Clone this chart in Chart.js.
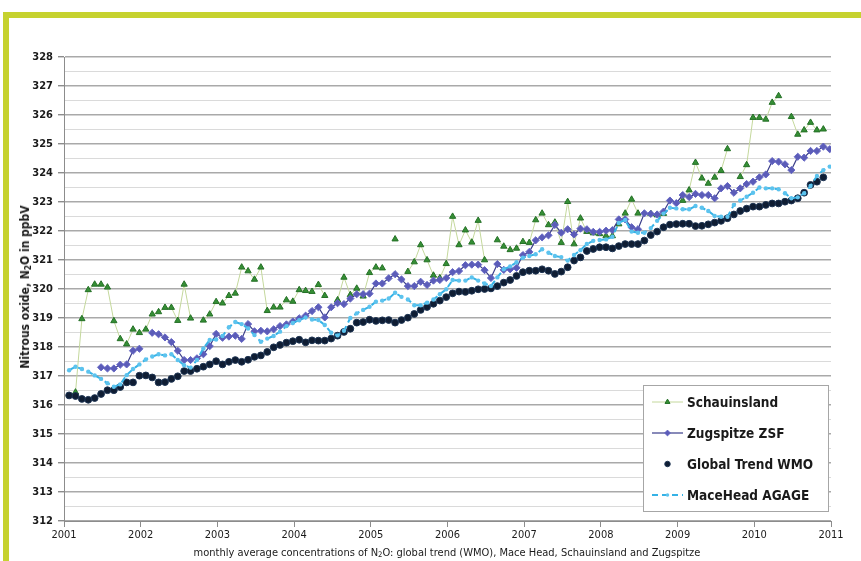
<!DOCTYPE html>
<html>
<head>
<meta charset="utf-8">
<script src="https://cdn.jsdelivr.net/npm/chart.js@4.4.1/dist/chart.umd.min.js"></script>
<style>
  body { margin: 0; background: #fff; }
  #wrap { position: relative; width: 861px; height: 561px; overflow: hidden;
          font-family: 'Liberation Sans Narrow', 'DejaVu Sans Condensed', Arial, sans-serif; }
  #frame { position: absolute; left: 3px; top: 12px; width: 900px; height: 600px;
           border-top: 6px solid #c6d22f; border-left: 6px solid #c6d22f; }
  canvas { position: absolute; left: 0; top: 0; }
  #ytitle { position: absolute; left: 25px; top: 287px; transform: translate(-50%, -50%) rotate(-90deg);
            white-space: nowrap; font-weight: bold; font-size: 12px; color: #1a1a1a; }
  #xtitle { position: absolute; left: 447px; top: 552px; transform: translate(-50%, -50%);
            white-space: nowrap; font-size: 11px; color: #1a1a1a; }
  sub { font-size: 0.7em; vertical-align: -0.25em; line-height: 0; }
</style>
</head>
<body>
<div id="wrap">
  <div id="frame"></div>
  <canvas id="chart" width="861" height="561"></canvas>
  <div id="ytitle">Nitrous oxide, N<sub>2</sub>O in ppbV</div>
  <div id="xtitle">monthly average concentrations of N<sub>2</sub>O: global trend (WMO), Mace Head, Schauinsland and Zugspitze</div>
</div>
<script>
// series names (legend order)
const seriesNames = ['Schauinsland', 'Zugspitze ZSF', 'Global Trend WMO', 'MaceHead AGAGE'];
const yearTicks = [2001, 2002, 2003, 2004, 2005, 2006, 2007, 2008, 2009, 2010, 2011];

// monthly values, Jan 2001 .. Dec 2010 (null = no measurement)
const schauinsland = [
  null, 316.44, 318.97, 319.97, 320.16, 320.16, 320.06, 318.90, 318.28, 318.10, 318.61, 318.49,
  318.61, 319.13, 319.21, 319.36, 319.36, 318.91, 320.16, 318.99, null, 318.92, 319.13, 319.56,
  319.51, 319.77, 319.85, 320.75, 320.62, 320.33, 320.75, 319.25, 319.37, 319.37, 319.62, 319.57,
  319.97, 319.94, 319.91, 320.15, 319.77, null, 319.62, 320.40, 319.80, 320.02, 319.75, 320.56,
  320.75, 320.72, null, 321.72, null, 320.60, 320.93, 321.52, 321.00, 320.47, 320.38, 320.87,
  322.50, 321.52, 322.03, 321.61, 322.36, 321.00, null, 321.69, 321.47, 321.35, 321.40, 321.63,
  321.60, 322.38, 322.61, 322.21, 322.30, 321.60, 323.01, 321.55, 322.44, 321.98, 321.93, 321.90,
  321.83, 321.83, 322.24, 322.61, 323.09, 322.61, null, 322.60, 322.55, 322.60, null, null,
  323.05, 323.41, 324.36, 323.82, 323.64, 323.85, 324.08, 324.83, null, 323.87, 324.28, 325.91,
  325.91, 325.85, 326.43, 326.66, null, 325.94, 325.33, 325.48, 325.74, 325.48, 325.51, null
];
const zugspitze = [
  null, null, null, null, null, 317.30, 317.26, 317.26, 317.39, 317.40, 317.87, 317.94,
  null, 318.49, 318.44, 318.33, 318.17, 317.87, 317.55, 317.55, 317.61, 317.75, 318.03, 318.45,
  318.32, 318.36, 318.39, 318.28, 318.79, 318.54, 318.56, 318.54, 318.61, 318.72, 318.78, 318.88,
  318.99, 319.08, 319.24, 319.37, 319.02, 319.37, 319.51, 319.48, 319.67, 319.82, 319.82, 319.84,
  320.19, 320.19, 320.37, 320.51, 320.33, 320.10, 320.10, 320.25, 320.14, 320.29, 320.31, 320.38,
  320.58, 320.62, 320.82, 320.84, 320.84, 320.65, 320.38, 320.86, 320.66, 320.68, 320.73, 321.17,
  321.28, 321.68, 321.78, 321.85, 322.21, 321.94, 322.06, 321.88, 322.08, 322.06, 321.97, 321.97,
  322.01, 322.03, 322.40, 322.40, 322.13, 322.06, 322.61, 322.59, 322.57, 322.67, 323.05, 322.96,
  323.24, 323.17, 323.28, 323.24, 323.24, 323.13, 323.47, 323.55, 323.32, 323.47, 323.62, 323.70,
  323.85, 323.95, 324.41, 324.39, 324.30, 324.10, 324.56, 324.53, 324.76, 324.76, 324.91, 324.82
];
const globalTrend = [
  316.33, 316.31, 316.21, 316.18, 316.24, 316.38, 316.51, 316.51, 316.62, 316.78, 316.78, 317.01,
  317.02, 316.95, 316.78, 316.79, 316.90, 316.99, 317.17, 317.17, 317.25, 317.32, 317.40, 317.51,
  317.40, 317.49, 317.55, 317.49, 317.56, 317.66, 317.71, 317.83, 317.99, 318.07, 318.15, 318.20,
  318.25, 318.16, 318.23, 318.22, 318.22, 318.29, 318.39, 318.52, 318.63, 318.84, 318.86, 318.94,
  318.90, 318.92, 318.93, 318.84, 318.93, 319.01, 319.14, 319.28, 319.38, 319.49, 319.60, 319.72,
  319.85, 319.91, 319.90, 319.94, 319.99, 320.00, 320.02, 320.10, 320.22, 320.31, 320.45, 320.58,
  320.63, 320.63, 320.68, 320.63, 320.52, 320.60, 320.75, 320.98, 321.09, 321.31, 321.38, 321.44,
  321.44, 321.40, 321.48, 321.55, 321.55, 321.55, 321.67, 321.86, 321.98, 322.13, 322.22, 322.24,
  322.25, 322.25, 322.17, 322.18, 322.23, 322.29, 322.35, 322.44, 322.57, 322.69, 322.77, 322.84,
  322.84, 322.90, 322.95, 322.95, 323.01, 323.05, 323.13, 323.32, 323.59, 323.70, 323.85, null
];
const maceHead = [
  317.20, 317.32, 317.24, 317.15, 317.02, 316.90, 316.75, 316.63, 316.71, 317.03, 317.24, 317.40,
  317.57, 317.67, 317.75, 317.71, 317.75, 317.55, 317.37, 317.29, 317.55, 317.95, 318.24, 318.26,
  318.38, 318.68, 318.86, 318.79, 318.64, 318.41, 318.18, 318.29, 318.38, 318.53, 318.72, 318.83,
  318.92, 319.02, 318.95, 318.93, 318.76, 318.49, 318.40, 318.56, 319.00, 319.16, 319.28, 319.39,
  319.56, 319.60, 319.67, 319.87, 319.73, 319.64, 319.44, 319.44, 319.53, 319.64, 319.82, 319.99,
  320.31, 320.29, 320.29, 320.40, 320.29, 320.19, 320.10, 320.40, 320.68, 320.78, 320.92, 321.08,
  321.14, 321.20, 321.37, 321.25, 321.14, 321.10, 320.98, 321.17, 321.34, 321.55, 321.66, 321.69,
  321.71, 321.80, 322.28, 322.38, 321.98, 321.94, 321.94, 322.10, 322.35, 322.60, 322.80, 322.78,
  322.75, 322.75, 322.86, 322.80, 322.69, 322.52, 322.49, 322.49, 322.90, 323.05, 323.18, 323.32,
  323.50, 323.47, 323.47, 323.44, 323.30, 323.13, 323.16, 323.30, 323.55, 323.90, 324.10, 324.22
];

// decimal-year position of each monthly value
const monthPos = maceHead.map((_, i) => 2001 + (i + 0.8) / 12);
const toPoints = arr => arr.map((v, i) => ({ x: monthPos[i], y: v }));

const TXT = '#1a1a1a';
const FONT = "'Liberation Sans Narrow', 'DejaVu Sans Condensed', Arial, sans-serif";

const datasets = [
  {
    label: seriesNames[0], data: toPoints(schauinsland), order: 4,
    borderColor: '#c4d89c', borderWidth: 1, spanGaps: false,
    pointStyle: 'triangle', pointRadius: 3.6,
    pointBackgroundColor: '#358f35', pointBorderColor: '#247026', pointBorderWidth: 1
  },
  {
    label: seriesNames[1], data: toPoints(zugspitze), order: 3,
    borderColor: '#3a3d8a', borderWidth: 1.2, spanGaps: false,
    pointStyle: 'rectRot', pointRadius: 3.6,
    pointBackgroundColor: '#5b5cb8', pointBorderColor: '#6566c4', pointBorderWidth: 1
  },
  {
    label: seriesNames[2], data: toPoints(globalTrend), order: 2,
    showLine: false, borderColor: '#0f1d33',
    pointStyle: 'circle', pointRadius: 3.4,
    pointBackgroundColor: '#0f1d33', pointBorderColor: '#1c3352', pointBorderWidth: 1
  },
  {
    label: seriesNames[3], data: toPoints(maceHead), order: 1,
    borderColor: '#35b2e6', borderWidth: 2, borderDash: [6, 4], spanGaps: false,
    pointStyle: 'circle', pointRadius: 2.2,
    pointBackgroundColor: '#5cc3ee', pointBorderColor: '#5cc3ee', pointBorderWidth: 0
  }
];

// legend box drawn inside the plot, bottom right
const boxLegend = {
  id: 'boxLegend',
  afterDatasetsDraw(chart) {
    const { ctx, chartArea } = chart;
    const w = 185, h = 126;
    const x0 = chartArea.right - 3 - w, y0 = chartArea.bottom - 10 - h;
    ctx.save();
    ctx.fillStyle = '#fff';
    ctx.fillRect(x0, y0, w, h);
    ctx.strokeStyle = '#a6a6a6';
    ctx.lineWidth = 1;
    ctx.strokeRect(x0 + 0.5, y0 + 0.5, w, h);
    chart.data.datasets.forEach((ds, i) => {
      const cy = y0 + 17 + i * 31;
      const lx1 = x0 + 9, lx2 = x0 + 40, mx = (lx1 + lx2) / 2;
      if (ds.showLine !== false) {
        ctx.strokeStyle = ds.borderColor;
        ctx.lineWidth = ds.borderWidth;
        ctx.setLineDash(ds.borderDash || []);
        ctx.beginPath();
        ctx.moveTo(lx1, cy); ctx.lineTo(lx2, cy);
        ctx.stroke();
        ctx.setLineDash([]);
      }
      ctx.fillStyle = ds.pointBackgroundColor;
      ctx.strokeStyle = ds.pointBorderColor;
      ctx.lineWidth = ds.pointBorderWidth;
      Chart.helpers.drawPoint(ctx, { pointStyle: ds.pointStyle, radius: ds.pointRadius * 0.8, rotation: 0, borderWidth: ds.pointBorderWidth }, mx, cy);
      ctx.fillStyle = TXT;
      ctx.font = 'bold 13.5px ' + FONT;
      ctx.textBaseline = 'middle';
      ctx.textAlign = 'left';
      ctx.fillText(ds.label, x0 + 44, cy + 1);
    });
    ctx.restore();
  }
};

new Chart(document.getElementById('chart'), {
  type: 'line',
  data: { datasets },
  options: {
    responsive: false,
    animation: false,
    layout: { padding: { left: 0, right: 30, top: 57, bottom: 0 } },
    plugins: { legend: { display: false }, tooltip: { enabled: false } },
    scales: {
      x: {
        type: 'linear', min: yearTicks[0], max: yearTicks[yearTicks.length - 1],
        afterBuildTicks: s => { s.ticks = yearTicks.map(v => ({ value: v })); },
        afterFit: s => { s.height = 40; },
        ticks: { callback: v => String(v), color: TXT, font: { family: FONT, size: 11 }, padding: 2, maxRotation: 0 },
        grid: { drawOnChartArea: false, drawTicks: true, tickLength: 6, tickColor: '#8c8c8c' },
        border: { color: '#8c8c8c', width: 1 }
      },
      y: {
        min: 312, max: 328,
        afterFit: s => { s.width = 64; },
        ticks: {
          stepSize: 0.5, autoSkip: false,
          callback: v => (v % 1 === 0 ? String(v) : ''),
          color: TXT, font: { family: FONT, size: 11, weight: 'bold' }, padding: 5
        },
        grid: {
          color: c => (c.tick && c.tick.value % 1 === 0 ? '#a9a9a9' : '#dadada'),
          lineWidth: c => (c.tick && c.tick.value % 1 === 0 ? 1.4 : 1),
          tickColor: c => (c.tick && c.tick.value % 1 === 0 ? '#8c8c8c' : 'rgba(0,0,0,0)'),
          tickLength: 6
        },
        border: { color: '#8c8c8c', width: 1 }
      }
    }
  },
  plugins: [boxLegend]
});
</script>
</body>
</html>
